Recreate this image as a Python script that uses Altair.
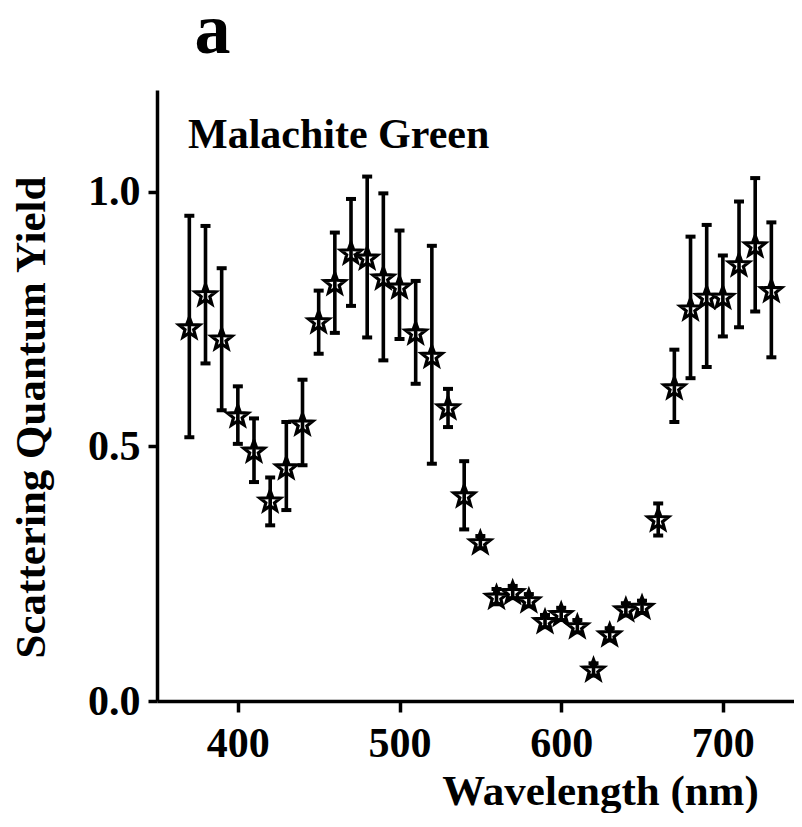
import altair as alt
import pandas as pd

wavelength = [370, 380, 390, 400, 410, 420, 430, 440, 450, 460, 470, 480, 490,
              500, 510, 520, 530, 540, 550, 560, 570, 580, 590, 600, 610, 620,
              630, 640, 650, 660, 670, 680, 690, 700, 710, 720, 730]
yield_val = [0.734, 0.799, 0.712, 0.561, 0.492, 0.394, 0.459, 0.545, 0.746, 0.821,
             0.881, 0.871, 0.832, 0.814, 0.724, 0.678, 0.577, 0.404, 0.312, 0.205,
             0.214, 0.198, 0.157, 0.171, 0.147, 0.062, 0.131, 0.180, 0.185, 0.357,
             0.616, 0.771, 0.794, 0.794, 0.858, 0.895, 0.807]
err_low = [0.518, 0.663, 0.571, 0.505, 0.430, 0.345, 0.375, 0.463, 0.682, 0.723,
           0.776, 0.714, 0.669, 0.711, 0.623, 0.466, 0.538, 0.337, 0.300, 0.190,
           0.202, 0.186, 0.145, 0.159, 0.135, 0.050, 0.119, 0.168, 0.173, 0.325,
           0.548, 0.634, 0.656, 0.716, 0.734, 0.765, 0.675]
err_high = [0.953, 0.933, 0.850, 0.618, 0.555, 0.439, 0.548, 0.631, 0.806, 0.920,
            0.986, 1.030, 0.997, 0.924, 0.825, 0.894, 0.613, 0.471, 0.324, 0.220,
            0.226, 0.210, 0.169, 0.183, 0.159, 0.074, 0.143, 0.192, 0.197, 0.388,
            0.690, 0.912, 0.935, 0.875, 0.981, 1.027, 0.940]

x_ticks = [400, 500, 600, 700]
y_ticks = [0.0, 0.5, 1.0]
panel_label = "a"
series_label = "Malachite Green"

FONT = "Liberation Serif"

# five-pointed star glyph in the unit box used by Vega custom symbols
STAR = ("M0,-0.905L0.247,-0.245L0.951,-0.214L0.399,0.225L0.588,0.905"
        "L0,0.515L-0.588,0.905L-0.399,0.225L-0.951,-0.214L-0.247,-0.245Z")

df = pd.DataFrame({"wl": wavelength, "y": yield_val, "lo": err_low, "hi": err_high})

xscale = alt.Scale(domain=[350, 744], nice=False, zero=False)
yscale = alt.Scale(domain=[0, 1.2], nice=False, zero=False)

xax = alt.Axis(values=x_ticks, title="Wavelength (nm)", grid=False,
               labelFontSize=42, labelFont=FONT, labelFontWeight="bold",
               labelPadding=11, tickSize=11,
               titleFont=FONT, titleFontSize=43, titleFontWeight="bold",
               titleX=443, titleY=103, titleAlign="center",
               titleBaseline="alphabetic")
yax = alt.Axis(values=y_ticks, format=".1f", title="Scattering Quantum Yield",
               grid=False, labelFontSize=42, labelFont=FONT,
               labelFontWeight="bold", labelPadding=8, tickSize=9,
               titleFont=FONT, titleFontSize=43, titleFontWeight="bold",
               titleX=-113, titleY=327, titleAlign="center",
               titleAngle=270, titleBaseline="alphabetic")

base = alt.Chart(df)

X = alt.X("wl:Q", scale=xscale, axis=xax)
Y = alt.Y("y:Q", scale=yscale, axis=yax)

stars = base.mark_point(shape=STAR, filled=True, fill="white", stroke="black",
                        strokeWidth=3.2, size=470, opacity=1).encode(x=X, y=Y)

bars = base.mark_rule(color="black", strokeWidth=3.6).encode(
    x="wl:Q", y="lo:Q", y2="hi:Q"
)
cap_lo = base.mark_tick(orient="horizontal", color="black", size=10,
                        thickness=4, opacity=1).encode(x="wl:Q", y="lo:Q")
cap_hi = base.mark_tick(orient="horizontal", color="black", size=10,
                        thickness=4, opacity=1).encode(x="wl:Q", y="hi:Q")

label_a = alt.Chart(pd.DataFrame({"t": [panel_label]})).mark_text(
    font=FONT, fontSize=72, fontWeight="bold", align="center",
    baseline="alphabetic", color="black"
).encode(text="t:N", x=alt.value(55.5), y=alt.value(-37))

label_s = alt.Chart(pd.DataFrame({"t": [series_label]})).mark_text(
    font=FONT, fontSize=42, fontWeight="bold", align="left",
    baseline="alphabetic", color="black"
).encode(text="t:N", x=alt.value(31), y=alt.value(58))

chart = alt.layer(stars, bars, cap_lo, cap_hi, label_a, label_s).properties(
    width=637, height=611,
    autosize=alt.AutoSizeParams(type="none"),
    padding={"left": 149, "top": 82, "right": 0, "bottom": 112},
).configure_view(stroke=None).configure_axis(
    domainColor="black", domainWidth=3.5, tickColor="black", tickWidth=3.5,
    labelColor="black", titleColor="black"
)

chart.save("out.html", embed_options={"renderer": "svg", "actions": False})
